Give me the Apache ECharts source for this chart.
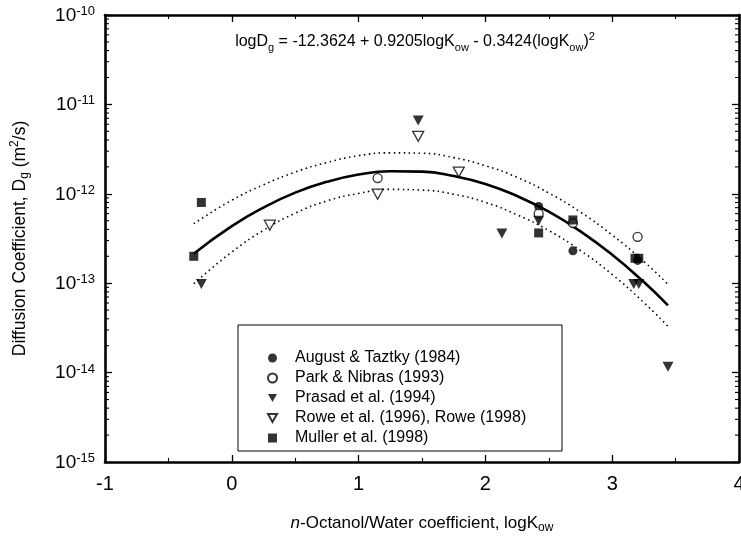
<!DOCTYPE html>
<html><head><meta charset="utf-8">
<script src="https://cdn.jsdelivr.net/npm/echarts@6/dist/echarts.min.js"></script>
<style>html,body{margin:0;padding:0;background:#fff}#c{width:741px;height:538px}</style>
</head><body><div id="c"></div>
<script>
// ---- data ----
const august = [[2.42, 7.2e-13], [2.69, 2.3e-13], [3.20, 1.8e-13]];
const park   = [[1.15, 1.5e-12], [2.42, 6.0e-13], [2.69, 4.7e-13], [3.20, 3.3e-13]];
const prasad = [[-0.24, 9.8e-14], [1.47, 6.6e-12], [2.13, 3.6e-13], [2.42, 5.0e-13], [3.17, 9.8e-14], [3.21, 9.8e-14], [3.44, 1.16e-14]];
const rowe   = [[0.30, 4.45e-13], [1.15, 9.9e-13], [1.47, 4.4e-12], [1.79, 1.75e-12]];
const muller = [[-0.30, 2.0e-13], [-0.24, 8.0e-13], [2.42, 3.65e-13], [2.69, 5.1e-13], [3.18, 1.9e-13], [3.21, 1.9e-13]];

const fitX   = [-0.3, 0, 0.25, 0.5, 0.75, 1, 1.25, 1.5, 1.75, 2, 2.25, 2.5, 2.75, 3, 3.25, 3.44];
const fitY   = [2.14e-13, 4.34e-13, 7.01e-13, 1.03e-12, 1.36e-12, 1.64e-12, 1.79e-12, 1.77e-12, 1.58e-12, 1.29e-12, 9.44e-13, 6.30e-13, 3.80e-13, 2.08e-13, 1.03e-13, 5.65e-14];
const upperY = [4.63e-13, 8.47e-13, 1.26e-12, 1.75e-12, 2.24e-12, 2.67e-12, 2.87e-12, 2.84e-12, 2.54e-12, 2.06e-12, 1.53e-12, 1.02e-12, 6.24e-13, 3.45e-13, 1.75e-13, 9.7e-14];
const lowerY = [9.9e-14, 2.23e-13, 3.90e-13, 6.07e-13, 8.32e-13, 1.01e-12, 1.12e-12, 1.10e-12, 9.89e-13, 8.02e-13, 5.82e-13, 3.88e-13, 2.32e-13, 1.25e-13, 6.07e-14, 3.29e-14];

const xMin = -1, xMax = 4;
const yMin = 1e-15, yMax = 1e-10;
const logMantissas = [2, 3, 4, 5, 6, 7, 8, 9];
const decades = [-15, -14, -13, -12, -11];

const seriesNames = ['August & Taztky (1984)', 'Park & Nibras (1993)', 'Prasad et al. (1994)', 'Rowe et al. (1996), Rowe (1998)', 'Muller et al. (1998)'];
const equationText = '{t|logD}{sub|g}{t| = -12.3624 + 0.9205logK}{sub|ow}{t| - 0.3424(logK}{sub|ow}{t|)}{sup|2}';

// ---- chart ----
const FONT = '"Liberation Sans", Arial, sans-serif';
const zip = (xs, ys) => xs.map((x, i) => [x, ys[i]]);
const minorData = [];
decades.forEach(d => logMantissas.forEach(m => minorData.push([xMin, m * Math.pow(10, d)])));
const downTri = 'path://M0,0 L10,0 L5,9 Z';

const axisLine = {show: true, onZero: false, lineStyle: {color: '#000', width: 2.6}};
const axisTick = {show: true, inside: true, length: 7, lineStyle: {color: '#000', width: 1.3}};
const minorTick = {show: true, splitNumber: 2, length: 4, lineStyle: {color: '#000', width: 1.1}};

function richSet(fs, sfs) {
  return {
    t: {fontFamily: FONT, fontSize: fs, color: '#000', lineHeight: 22},
    i: {fontFamily: FONT, fontSize: fs, color: '#000', lineHeight: 22, fontStyle: 'italic'},
    sub: {fontFamily: FONT, fontSize: sfs, color: '#000', lineHeight: 12, verticalAlign: 'bottom'},
    sup: {fontFamily: FONT, fontSize: sfs, color: '#000', lineHeight: 12, verticalAlign: 'top'}
  };
}

const chart = echarts.init(document.getElementById('c'), null, {renderer: 'canvas'});
chart.setOption({
  animation: false,
  backgroundColor: '#fff',
  grid: {left: 105, right: 2, top: 15, bottom: 76, show: false, containLabel: false, outerBoundsMode: 'none'},
  xAxis: [
    {type: 'value', min: xMin, max: xMax, interval: 1, position: 'bottom',
     axisLine, axisTick, minorTick, splitLine: {show: false}, minorSplitLine: {show: false},
     axisLabel: {color: '#000', fontSize: 20, fontFamily: FONT, margin: 12, hideOverlap: false},
     name: '{i|n}{t|-Octanol/Water coefficient, logK}{sub|ow}', nameLocation: 'middle', nameGap: 50,
     nameTextStyle: {rich: richSet(17, 12)}},
    {type: 'value', min: xMin, max: xMax, interval: 1, position: 'top',
     axisLine, axisTick, minorTick, splitLine: {show: false}, axisLabel: {show: false}}
  ],
  yAxis: [
    {type: 'log', logBase: 10, min: yMin, max: yMax, position: 'left',
     axisLine, axisTick, splitLine: {show: false},
     axisLabel: {margin: 10, formatter: v => '{b|10}{s|' + Math.round(Math.log10(v)) + '}',
       rich: {b: {fontFamily: FONT, fontSize: 19, color: '#000', lineHeight: 20, verticalAlign: 'bottom'},
              s: {fontFamily: FONT, fontSize: 13, color: '#000', lineHeight: 13, verticalAlign: 'top', padding: [0, 0, 11, 0]}}},
     name: '{t|Diffusion Coefficient, D}{sub|g}{t| (m}{sup|2}{t|/s)}', nameLocation: 'middle', nameGap: 74,
     nameTextStyle: {rich: richSet(17.5, 12)}},
    {type: 'log', logBase: 10, min: yMin, max: yMax, position: 'right',
     axisLine, axisTick, splitLine: {show: false}, axisLabel: {show: false}}
  ],
  legend: {
    orient: 'vertical', left: 262, top: 345, itemWidth: 9, itemHeight: 9, itemGap: 4,
    data: [
      {name: seriesNames[0], icon: 'circle'},
      {name: seriesNames[1], icon: 'circle'},
      {name: seriesNames[2], icon: downTri},
      {name: seriesNames[3], icon: downTri},
      {name: seriesNames[4], icon: 'rect'}
    ],
    textStyle: {fontFamily: FONT, fontSize: 16, color: '#000', lineHeight: 16, padding: [0, 0, 0, 13]}
  },
  graphic: [
    {type: 'rect', shape: {x: 238, y: 325, width: 324, height: 126}, style: {fill: 'none', stroke: '#000', lineWidth: 1}, z: 5},
    {type: 'text', x: 415, y: 42, style: {text: equationText, rich: richSet(16, 11), align: 'center', verticalAlign: 'middle'}, z: 5}
  ],
  series: [
    {type: 'custom', coordinateSystem: 'cartesian2d', data: minorData, silent: true, clip: false,
     encode: {x: 0, y: 1},
     renderItem: (params, api) => {
       const v = api.value(1);
       const pL = api.coord([xMin, v]);
       const pR = api.coord([xMax, v]);
       return {type: 'group', children: [
         {type: 'line', shape: {x1: pL[0], y1: pL[1], x2: pL[0] + 4, y2: pL[1]}, style: {stroke: '#000', lineWidth: 1.1}},
         {type: 'line', shape: {x1: pR[0] - 4, y1: pR[1], x2: pR[0], y2: pR[1]}, style: {stroke: '#000', lineWidth: 1.1}}
       ]};
     }},
    {name: 'fit', type: 'line', data: zip(fitX, fitY), smooth: true, symbol: 'none',
     lineStyle: {color: '#000', width: 2.6}, z: 3},
    {name: 'upper', type: 'line', data: zip(fitX, upperY), smooth: true, symbol: 'none',
     lineStyle: {color: '#000', width: 1.6, type: [1.5, 3.5]}, z: 3},
    {name: 'lower', type: 'line', data: zip(fitX, lowerY), smooth: true, symbol: 'none',
     lineStyle: {color: '#000', width: 1.6, type: [1.5, 3.5]}, z: 3},
    {name: seriesNames[0], type: 'scatter', data: august, symbol: 'circle', symbolSize: 9,
     itemStyle: {color: '#000'}, z: 6},
    {name: seriesNames[1], type: 'scatter', data: park, symbol: 'circle', symbolSize: 9,
     itemStyle: {color: '#fff', borderColor: '#000', borderWidth: 1.3}, z: 6},
    {name: seriesNames[2], type: 'scatter', data: prasad, symbol: 'triangle', symbolRotate: 180, symbolSize: [11, 10],
     itemStyle: {color: '#000'}, z: 6},
    {name: seriesNames[3], type: 'scatter', data: rowe, symbol: 'triangle', symbolRotate: 180, symbolSize: [11, 10],
     itemStyle: {color: '#fff', borderColor: '#000', borderWidth: 1.3}, z: 6},
    {name: seriesNames[4], type: 'scatter', data: muller, symbol: 'rect', symbolSize: 9,
     itemStyle: {color: '#000'}, z: 6}
  ]
});
</script></body></html>
